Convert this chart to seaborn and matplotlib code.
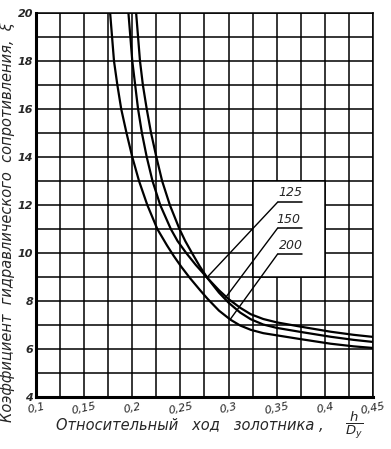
import numpy as np
import pandas as pd
import seaborn as sns
import matplotlib.pyplot as plt
from matplotlib.patches import Rectangle

## Data (h/Dy vs coefficient xi)
x_200 = [0.177, 0.179, 0.181, 0.1845, 0.1885, 0.194, 0.200, 0.207, 0.2156, 0.226, 0.236, 0.243,
         0.251, 0.260, 0.270, 0.278, 0.290, 0.302, 0.312, 0.323, 0.336, 0.350, 0.375, 0.406, 0.430, 0.451]
xi_200 = [20.0, 19.0, 18.0, 17.0, 16.0, 15.0, 14.0, 13.0, 12.0, 11.0, 10.32, 9.88,
          9.42, 8.95, 8.47, 8.1, 7.6, 7.22, 6.98, 6.8, 6.66, 6.57, 6.41, 6.22, 6.11, 6.04]

x_125 = [0.196, 0.198, 0.200, 0.203, 0.206, 0.210, 0.215, 0.221, 0.229, 0.240, 0.247, 0.256,
         0.266, 0.278, 0.290, 0.300, 0.312, 0.323, 0.336, 0.350, 0.375, 0.406, 0.430, 0.451]
xi_125 = [20.0, 19.0, 18.0, 17.0, 16.0, 15.0, 14.0, 13.0, 12.0, 11.0, 10.5, 10.0,
          9.5, 8.96, 8.45, 8.08, 7.72, 7.45, 7.25, 7.11, 6.93, 6.72, 6.59, 6.50]

x_150 = [0.204, 0.206, 0.208, 0.211, 0.215, 0.2195, 0.225, 0.231, 0.239, 0.249, 0.255, 0.262,
         0.270, 0.278, 0.290, 0.300, 0.312, 0.323, 0.336, 0.350, 0.375, 0.406, 0.430, 0.451]
xi_150 = [20.0, 19.0, 18.0, 17.0, 16.0, 15.0, 14.0, 13.0, 12.0, 11.0, 10.5, 10.0,
          9.45, 8.96, 8.35, 7.93, 7.52, 7.24, 7.02, 6.88, 6.71, 6.51, 6.38, 6.29]

x_ticks = [0.1, 0.15, 0.2, 0.25, 0.3, 0.35, 0.4, 0.45]
x_ticklabels = ["0,1", "0,15", "0,2", "0,25", "0,3", "0,35", "0,4", "0,45"]
y_ticks = [4, 6, 8, 10, 12, 14, 16, 18, 20]

labels = ["125", "150", "200"]
label_xy = [(0.3646, 12.5), (0.3625, 11.4), (0.3646, 10.33)]
underline_y = [12.12, 11.04, 9.96]
leader_end = [(0.278, 9.0), (0.297, 8.15), (0.302, 7.25)]

df = pd.concat([
    pd.DataFrame({"x": x_125, "xi": xi_125, "Dy": "125"}),
    pd.DataFrame({"x": x_150, "xi": xi_150, "Dy": "150"}),
    pd.DataFrame({"x": x_200, "xi": xi_200, "Dy": "200"}),
])

sns.set_style("white")
fig = plt.figure(figsize=(3.91, 4.49), dpi=100)
ax = fig.add_axes([36 / 391, 52 / 449, 337 / 391, 384 / 449])

sns.lineplot(data=df, x="x", y="xi", hue="Dy", estimator=None,
             palette=["black", "black", "black"], linewidth=1.6, legend=False, ax=ax, zorder=5)

ax.set_xlim(0.1, 0.45)
ax.set_ylim(4, 20)
ax.set_xticks(x_ticks)
ax.set_xticks(np.arange(0.1, 0.4501, 0.025), minor=True)
ax.set_yticks(y_ticks)
ax.set_yticks(np.arange(4, 20.01, 1), minor=True)
ax.set_xticklabels(x_ticklabels, fontstyle="italic", fontsize=8, rotation=12)
ax.set_yticklabels([str(v) for v in y_ticks], fontstyle="italic", fontweight="bold", fontsize=8)
ax.grid(True, which="both", color="black", linewidth=1.1)
ax.set_axisbelow(True)
ax.tick_params(axis="x", length=0, pad=3)
ax.tick_params(axis="y", length=0, pad=2)
ax.set_xlabel("")
ax.set_ylabel("")
for s in ["top", "right"]:
    ax.spines[s].set_linewidth(1.1)
for s in ["left", "bottom"]:
    ax.spines[s].set_linewidth(2.2)
for s in ax.spines.values():
    s.set_color("black")

# blank box behind the curve labels
ax.add_patch(Rectangle((0.325, 9), 0.075, 4, facecolor="white", edgecolor="black",
                       linewidth=1.1, zorder=2))

for lab, (tx, ty), uy, (ex, ey) in zip(labels, label_xy, underline_y, leader_end):
    ax.text(tx, ty, lab, ha="center", va="center", fontstyle="italic", fontsize=9, zorder=6)
    ax.plot([0.351, 0.376], [uy, uy], color="black", linewidth=1.1, zorder=6)
    ax.plot([0.351, ex], [uy, ey], color="black", linewidth=1.0, zorder=6)

fig.text(8 / 391, 0.505, "Коэффициент  гидравлического  сопротивления,  ξ",
         rotation=90, ha="center", va="center", fontstyle="italic", fontsize=10.5)
fig.text(190 / 391, 1 - 426 / 449, "Относительный   ход   золотника ,",
         ha="center", va="center", fontstyle="italic", fontsize=10.5)
fig.text(354 / 391, 1 - 425 / 449, "$\\dfrac{h}{D_y}$",
         ha="center", va="center", fontsize=9.5)

fig.savefig("out.png", dpi=100)
